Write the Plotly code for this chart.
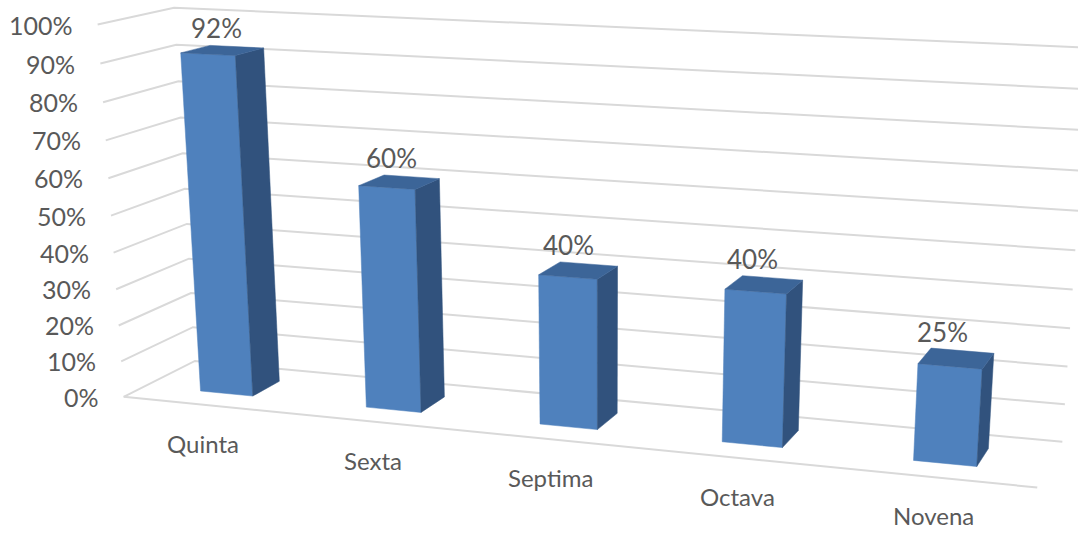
import numpy as np
import plotly.graph_objects as go

# ---------------- data ----------------
categories = ["Quinta", "Sexta", "Septima", "Octava", "Novena"]
values = [0.92, 0.60, 0.40, 0.40, 0.25]
value_labels = ["92%", "60%", "40%", "40%", "25%"]
tick_values = [0.0, 0.1, 0.2, 0.3, 0.4, 0.5, 0.6, 0.7, 0.8, 0.9, 1.0]
tick_labels = ["0%", "10%", "20%", "30%", "40%", "50%", "60%", "70%", "80%", "90%", "100%"]

# ---------------- perspective camera ----------------
# world = (category position, depth 0=front..1=back, value 0..1)
# calibrated from visible corners / edge points of the chart box on the page
W, H = 1078, 534
X_MIN, X_MAX = -0.5, len(categories) - 0.5
box_world = np.array([
    [X_MIN, 0, 0.0], [X_MIN, 0, 0.1], [X_MIN, 0, 0.2], [X_MIN, 0, 0.6],
    [X_MIN, 0, 0.7], [X_MIN, 0, 0.8], [X_MIN, 0, 0.9], [X_MIN, 0, 1.0],
    [X_MIN, 1, 1.0], [X_MIN, 1, 0.9],
    [X_MAX, 1, 0.0], [X_MAX, 1, 0.1], [X_MAX, 1, 0.2], [X_MAX, 1, 0.3],
    [X_MAX, 1, 0.4], [X_MAX, 1, 0.5],
    [X_MAX, 0, 0.0],
], dtype=float)
box_page = np.array([
    [123, 397], [122, 362], [118, 325], [110, 178],
    [106, 140], [102, 102], [100, 63], [98, 25],
    [173, 8], [177, 45],
    [1062, 441], [1065, 404], [1068, 367], [1070, 328],
    [1073, 290], [1075, 250],
    [1037, 488],
], dtype=float)

SCALE = 500.0


def _proj(p, world):
    M = p.reshape(3, 4)
    hw = np.c_[world, np.ones(len(world))] @ M.T
    return hw[:, :2] / hw[:, 2:3]


def fit_camera(world, page):
    pn = (page - [W / 2, H / 2]) / SCALE
    rows = []
    for (X, Y, Z), (u, v) in zip(world, pn):
        rows.append([X, Y, Z, 1, 0, 0, 0, 0, -u * X, -u * Y, -u * Z, -u])
        rows.append([0, 0, 0, 0, X, Y, Z, 1, -v * X, -v * Y, -v * Z, -v])
    _, _, vt = np.linalg.svd(np.array(rows))
    p = vt[-1] / vt[-1][11]
    # Levenberg-Marquardt refinement of reprojection error
    lam = 1e-3
    for _ in range(200):
        r = (_proj(p, world) - pn).ravel()
        J = np.zeros((r.size, 12))
        for k in range(11):
            dp = np.zeros(12)
            dp[k] = 1e-6
            J[:, k] = ((_proj(p + dp, world) - pn).ravel() - r) / 1e-6
        J = J[:, :11]
        A = J.T @ J
        g = J.T @ r
        step = np.linalg.solve(A + lam * np.diag(np.diag(A) + 1e-12), -g)
        p_new = p.copy()
        p_new[:11] += step
        r_new = (_proj(p_new, world) - pn).ravel()
        if r_new @ r_new < r @ r:
            p = p_new
            lam *= 0.5
        else:
            lam *= 4
    return p.reshape(3, 4)


P = fit_camera(box_world, box_page)


def project(X, Y, Z):
    h = P @ np.array([X, Y, Z, 1.0])
    u, v = h[0] / h[2], h[1] / h[2]
    return u * SCALE + W / 2, v * SCALE + H / 2


def poly(points):
    xy = [project(*p) for p in points]
    xs = [q[0] for q in xy] + [xy[0][0]]
    ys = [q[1] for q in xy] + [xy[0][1]]
    return xs, ys


fig = go.Figure()

# ---------------- grid on left and back walls ----------------
gx, gy = [], []
for t in tick_values:
    a = project(X_MIN, 0, t)
    b = project(X_MIN, 1, t)
    c = project(X_MAX, 1, t)
    gx += [a[0], b[0], c[0], None]
    gy += [a[1], b[1], c[1], None]
a = project(X_MIN, 0, 0)
b = project(X_MAX, 0, 0)
gx += [a[0], b[0], None]
gy += [a[1], b[1], None]
fig.add_trace(go.Scatter(x=gx, y=gy, mode="lines",
                         line=dict(color="#d9d9d9", width=2),
                         hoverinfo="skip", showlegend=False))

# ---------------- 3D columns ----------------
HW = 0.16            # half bar width
D0, D1 = 0.30, 0.70  # bar depth span
FRONT, SIDE, TOP = "#4f81bd", "#31527d", "#3c6598"

for i, v in enumerate(values):
    x0, x1 = i - HW, i + HW
    faces = [
        ([(x0, D0, 0), (x1, D0, 0), (x1, D0, v), (x0, D0, v)], FRONT),
        ([(x1, D0, 0), (x1, D1, 0), (x1, D1, v), (x1, D0, v)], SIDE),
        ([(x0, D0, v), (x1, D0, v), (x1, D1, v), (x0, D1, v)], TOP),
    ]
    for pts, col in faces:
        xs, ys = poly(pts)
        fig.add_trace(go.Scatter(x=xs, y=ys, mode="lines", fill="toself",
                                 fillcolor=col, line=dict(color=col, width=0.5),
                                 hoverinfo="skip", showlegend=False))

annotations = []
# value labels
for i, (v, lab) in enumerate(zip(values, value_labels)):
    px, py = project(i, D1, v)
    annotations.append(dict(x=px, y=py, xref="x", yref="y", text=lab,
                            showarrow=False, xanchor="center", yanchor="bottom",
                            xshift=-20, yshift=1, font=dict(size=26)))
# category labels
for i, cat in enumerate(categories):
    px, py = project(i, 0, 0)
    annotations.append(dict(x=px, y=py, xref="x", yref="y", text=cat,
                            showarrow=False, xanchor="center", yanchor="top",
                            xshift=-2, yshift=-22, font=dict(size=24)))
# value axis tick labels
for t, lab in zip(tick_values, tick_labels):
    px, py = project(X_MIN, 0, t)
    annotations.append(dict(x=px, y=py, xref="x", yref="y", text=lab,
                            showarrow=False, xanchor="right", yanchor="middle",
                            xshift=-23, font=dict(size=25)))

fig.update_layout(
    width=W, height=H,
    margin=dict(l=0, r=0, t=0, b=0),
    paper_bgcolor="white", plot_bgcolor="white",
    font=dict(family="Lato, Carlito, 'Open Sans', sans-serif", color="#595959"),
    xaxis=dict(range=[0, W], visible=False, fixedrange=True),
    yaxis=dict(range=[H, 0], visible=False, fixedrange=True),
    annotations=annotations,
    showlegend=False,
)

fig.write_html(
    "out.html",
    config={"displayModeBar": False},
    post_script="document.body.style.margin='0';document.body.style.overflow='hidden';",
)
